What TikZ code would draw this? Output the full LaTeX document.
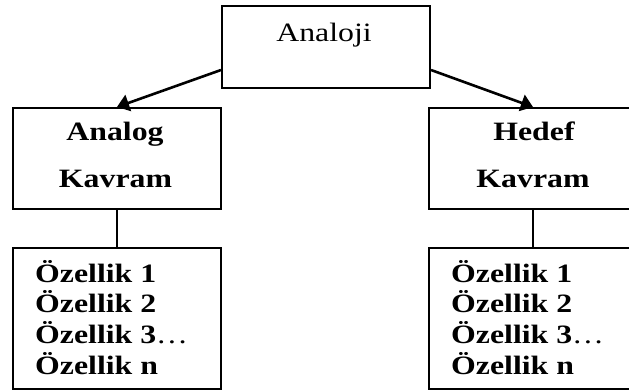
\documentclass[tikz,border=0pt]{standalone}
\usepackage{fontspec}
\setmainfont{Liberation Serif}
\usetikzlibrary{arrows.meta,calc}
\newcommand{\stretchx}[1]{\scalebox{1.2}[1]{#1}}
\begin{document}
\begin{tikzpicture}[x=1pt,y=-1pt,
  box/.style={draw, line width=2pt, inner sep=0pt, anchor=north west, minimum width=208pt},
  lbl/.style={inner sep=0pt, anchor=base, font=\fontsize{26.5}{30}\selectfont},
  blbl/.style={lbl, font=\fontsize{26.5}{30}\selectfont\bfseries},
  feat/.style={blbl, anchor=base west},
  conn/.style={line width=2.4pt},
  arr/.style={line width=2.6pt, -{Triangle[length=12pt,width=17pt]}}]
\useasboundingbox (0,0) rectangle (629,391);
\clip (0,0) rectangle (629,391);
% boxes
\node[box, minimum height=82pt] (analoji) at (221,5) {};
\node[box, minimum height=101pt] (analog) at (12,107) {};
\node[box, minimum height=101pt] (hedef) at (428,107) {};
\node[box, minimum height=141pt] (lfeat) at (12,247) {};
\node[box, minimum height=141pt] (rfeat) at (428,247) {};
% labels
\node[lbl] (tanaloji) at (324,41) {\stretchx{Analoji}};
\node[blbl] (tanalog) at (115,140) {\stretchx{Analog}};
\node[blbl] (tkavl) at (115.5,187) {\stretchx{Kavram}};
\node[blbl] (thedef) at (534,140) {\stretchx{Hedef}};
\node[blbl] (tkavr) at (533,187) {\stretchx{Kavram}};
% feature lists
\foreach \t/\y [count=\i] in {1/282, 2/312.5, {3{\mdseries…}}/343, n/374} {
  \node[feat] (lf\i) at (35,\y) {\stretchx{Özellik \t}};
  \node[feat] (rf\i) at (451,\y) {\stretchx{Özellik \t}};
}
% connectors
\draw[arr] ($(analoji.south west)+(0,-19)$) -- (analog.north);
\draw[arr] ($(analoji.south east)+(0,-19)$) -- (hedef.north);
\draw[conn] (analog.south) -- (lfeat.north);
\draw[conn] (hedef.south) -- (rfeat.north);
\end{tikzpicture}
\end{document}
